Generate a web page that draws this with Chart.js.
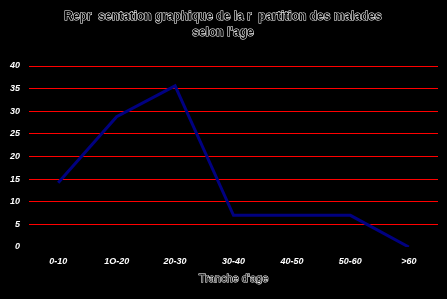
<!DOCTYPE html>
<html>
<head>
<meta charset="utf-8">
<script src="https://cdn.jsdelivr.net/npm/chart.js@4/dist/chart.umd.min.js"></script>
<style>
    html, body { margin: 0; padding: 0; background: #000; }
    #ageChart { display: block; }
</style>
</head>
<body>
<canvas id="ageChart" width="447" height="299"></canvas>
<script>
// Chart data
const ageGroups = ['0-10', '1O-20', '20-30', '30-40', '40-50', '50-60', '>60'];
const patients = [14.2, 28.8, 35.6, 7, 7, 7, 0];
const titleLines = ['Repr  sentation graphique de la r  partition des malades', 'selon l\'age'];
const xAxisTitle = 'Tranche d\'age';

// Outlined text (white stroke, black fill) like the original title
const outlinedTexts = {
    id: 'outlinedTexts',
    afterDraw(chart) {
        const ctx = chart.ctx;
        const area = chart.chartArea;
        const cx = (area.left + area.right) / 2;
        ctx.save();
        ctx.textAlign = 'center';
        ctx.textBaseline = 'middle';
        ctx.lineWidth = 1;
        ctx.strokeStyle = '#ffffff';
        ctx.fillStyle = '#000000';
        ctx.font = 'bold 12px "Liberation Sans", Arial, sans-serif';
        titleLines.forEach(function(line, i) {
            ctx.strokeText(line, 223, 17 + i * 16);
            ctx.fillText(line, 223, 17 + i * 16);
        });
        ctx.font = '11px "Liberation Sans", Arial, sans-serif';
        ctx.strokeText(xAxisTitle, cx, 279);
        ctx.fillText(xAxisTitle, cx, 279);
        ctx.restore();
    }
};

new Chart(document.getElementById('ageChart').getContext('2d'), {
    type: 'line',
    data: {
        labels: ageGroups,
        datasets: [{
            data: patients,
            borderColor: '#000080',
            borderWidth: 3,
            pointRadius: 0,
            tension: 0,
            fill: false
        }]
    },
    options: {
        responsive: false,
        animation: false,
        layout: {
            padding: { top: 66, right: 9, left: 0, bottom: 0 }
        },
        plugins: {
            legend: { display: false },
            tooltip: { enabled: false }
        },
        scales: {
            x: {
                offset: true,
                grid: { display: false, drawTicks: false },
                border: { display: false },
                afterFit: function(scale) { scale.height = 52; },
                ticks: {
                    color: '#ffffff',
                    padding: 9,
                    maxRotation: 0,
                    font: { family: '"Liberation Sans", Arial, sans-serif', size: 9, weight: 'bold', style: 'italic' }
                }
            },
            y: {
                min: 0,
                max: 40,
                grid: {
                    color: function(context) {
                        return context.tick.value === 0 ? 'rgba(0,0,0,0)' : '#ff0000';
                    },
                    lineWidth: 1,
                    drawTicks: false
                },
                border: { display: false },
                afterFit: function(scale) { scale.width = 29; },
                ticks: {
                    stepSize: 5,
                    color: '#ffffff',
                    padding: 9,
                    font: { family: '"Liberation Sans", Arial, sans-serif', size: 9, weight: 'bold', style: 'italic' }
                }
            }
        }
    },
    plugins: [outlinedTexts]
});
</script>
</body>
</html>
